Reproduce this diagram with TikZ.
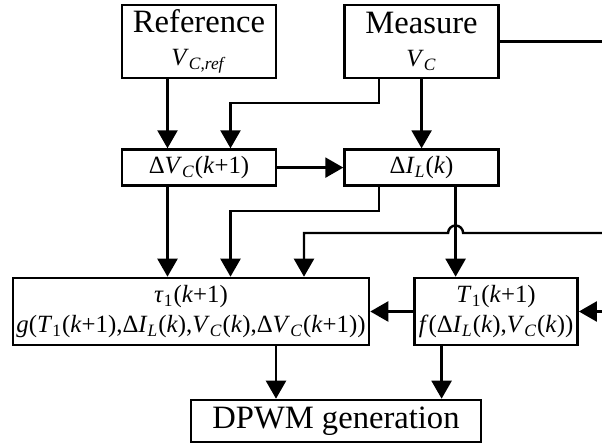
\documentclass[tikz,border=0pt]{standalone}
\usepackage{fontspec}
\setmainfont{Liberation Serif}
\usepackage{tikz}
\usetikzlibrary{positioning,arrows.meta}
\newcommand{\bigf}{\fontsize{16.3}{16.5}\selectfont}
\newcommand{\mathf}{\fontsize{12.4}{15}\selectfont}
\newcommand{\mv}[1]{\textit{#1}}
\newcommand{\sbs}[1]{\textsubscript{#1}}
\begin{document}
\begin{tikzpicture}[x=0.5pt,y=-0.5pt,
  node distance=34.5pt and 33pt,
  blk/.style={draw,line width=1.3pt,align=center,inner sep=0pt,minimum width=77pt},
  src/.style={blk,minimum height=36.5pt,font=\bigf},
  est/.style={blk,minimum height=18pt,font=\mathf},
  law/.style={blk,minimum height=33.5pt,font=\mathf},
  arr/.style={-{Triangle[length=9pt,width=10pt]},line width=1.2pt},
  wire/.style={line width=1.2pt}]
\useasboundingbox (0,0) rectangle (602,444);
\node[src] (ref) at (199,41.5) {Reference\\{\mathf\mv{V}\sbs{\mv{C},\mv{ref}}}};
\node[src,right=of ref] (meas) {Measure\\{\mathf\mv{V}\sbs{\mv{C}}}};
\node[est,below=of ref] (dvc) {Δ\mv{V}\sbs{\mv{C}}(\mv{k}+1)};
\node[est,right=of dvc] (dil) {Δ\mv{I}\sbs{\mv{L}}(\mv{k})};
\node[law,minimum width=178pt] (tau) at (191,311.5) {\mv{τ}\sbs{1}(\mv{k}+1)\\\mv{g}(\mv{T}\sbs{1}(\mv{k}+1),Δ\mv{I}\sbs{\mv{L}}(\mv{k}),\mv{V}\sbs{\mv{C}}(\mv{k}),Δ\mv{V}\sbs{\mv{C}}(\mv{k}+1))};
\node[law,minimum width=81.5pt,right=21.5pt of tau] (tone) {\mv{T}\sbs{1}(\mv{k}+1)\\\mv{f}(Δ\mv{I}\sbs{\mv{L}}(\mv{k}),\mv{V}\sbs{\mv{C}}(\mv{k}))};
\node[blk,minimum width=145pt,minimum height=21pt,font=\bigf] (dpwm) at (336,421) {DPWM generation};
\coordinate (vout) at (602,41.5);
\coordinate (fbin) at (602,233);
\coordinate (tin) at (602,311.5);
\coordinate (hop) at ([xshift=17pt]dil.south |- fbin);
\coordinate (tauin) at ([xshift=56.5pt]tau.north);
\draw[wire] (meas.east) -- (vout);
\draw[arr] ([xshift=-15.75pt]ref.south) -- ([xshift=-15.75pt]dvc.north);
\draw[arr] ([xshift=-21.25pt]meas.south) -- ++(0,24) -| ([xshift=15.75pt]dvc.north);
\draw[arr] (meas.south) -- (dil.north);
\draw[arr] (dvc.east) -- (dil.west);
\draw[arr] ([xshift=-15.75pt]dvc.south) -- ([xshift=-15.75pt]dvc.south |- tau.north);
\draw[arr] ([xshift=-21.25pt]dil.south) -- ++(0,24) -| ([xshift=15.75pt]dvc.south |- tau.north);
\draw[arr] ([xshift=17pt]dil.south) -- ([xshift=17pt]dil.south |- tone.north);
\draw[arr] (fbin) -- ([xshift=3.75pt]hop) arc[start angle=0,end angle=180,radius=3.75pt] -- (tauin |- fbin) -- (tauin);
\draw[arr] (tin) -- (tone.east);
\draw[arr] (tone.west) -- (tau.east);
\draw[arr] ([xshift=42.5pt]tau.south) -- ([xshift=42.5pt]tau.south |- dpwm.north);
\draw[arr] ([xshift=-27.25pt]tone.south) -- ([xshift=-27.25pt]tone.south |- dpwm.north);
\end{tikzpicture}
\end{document}
